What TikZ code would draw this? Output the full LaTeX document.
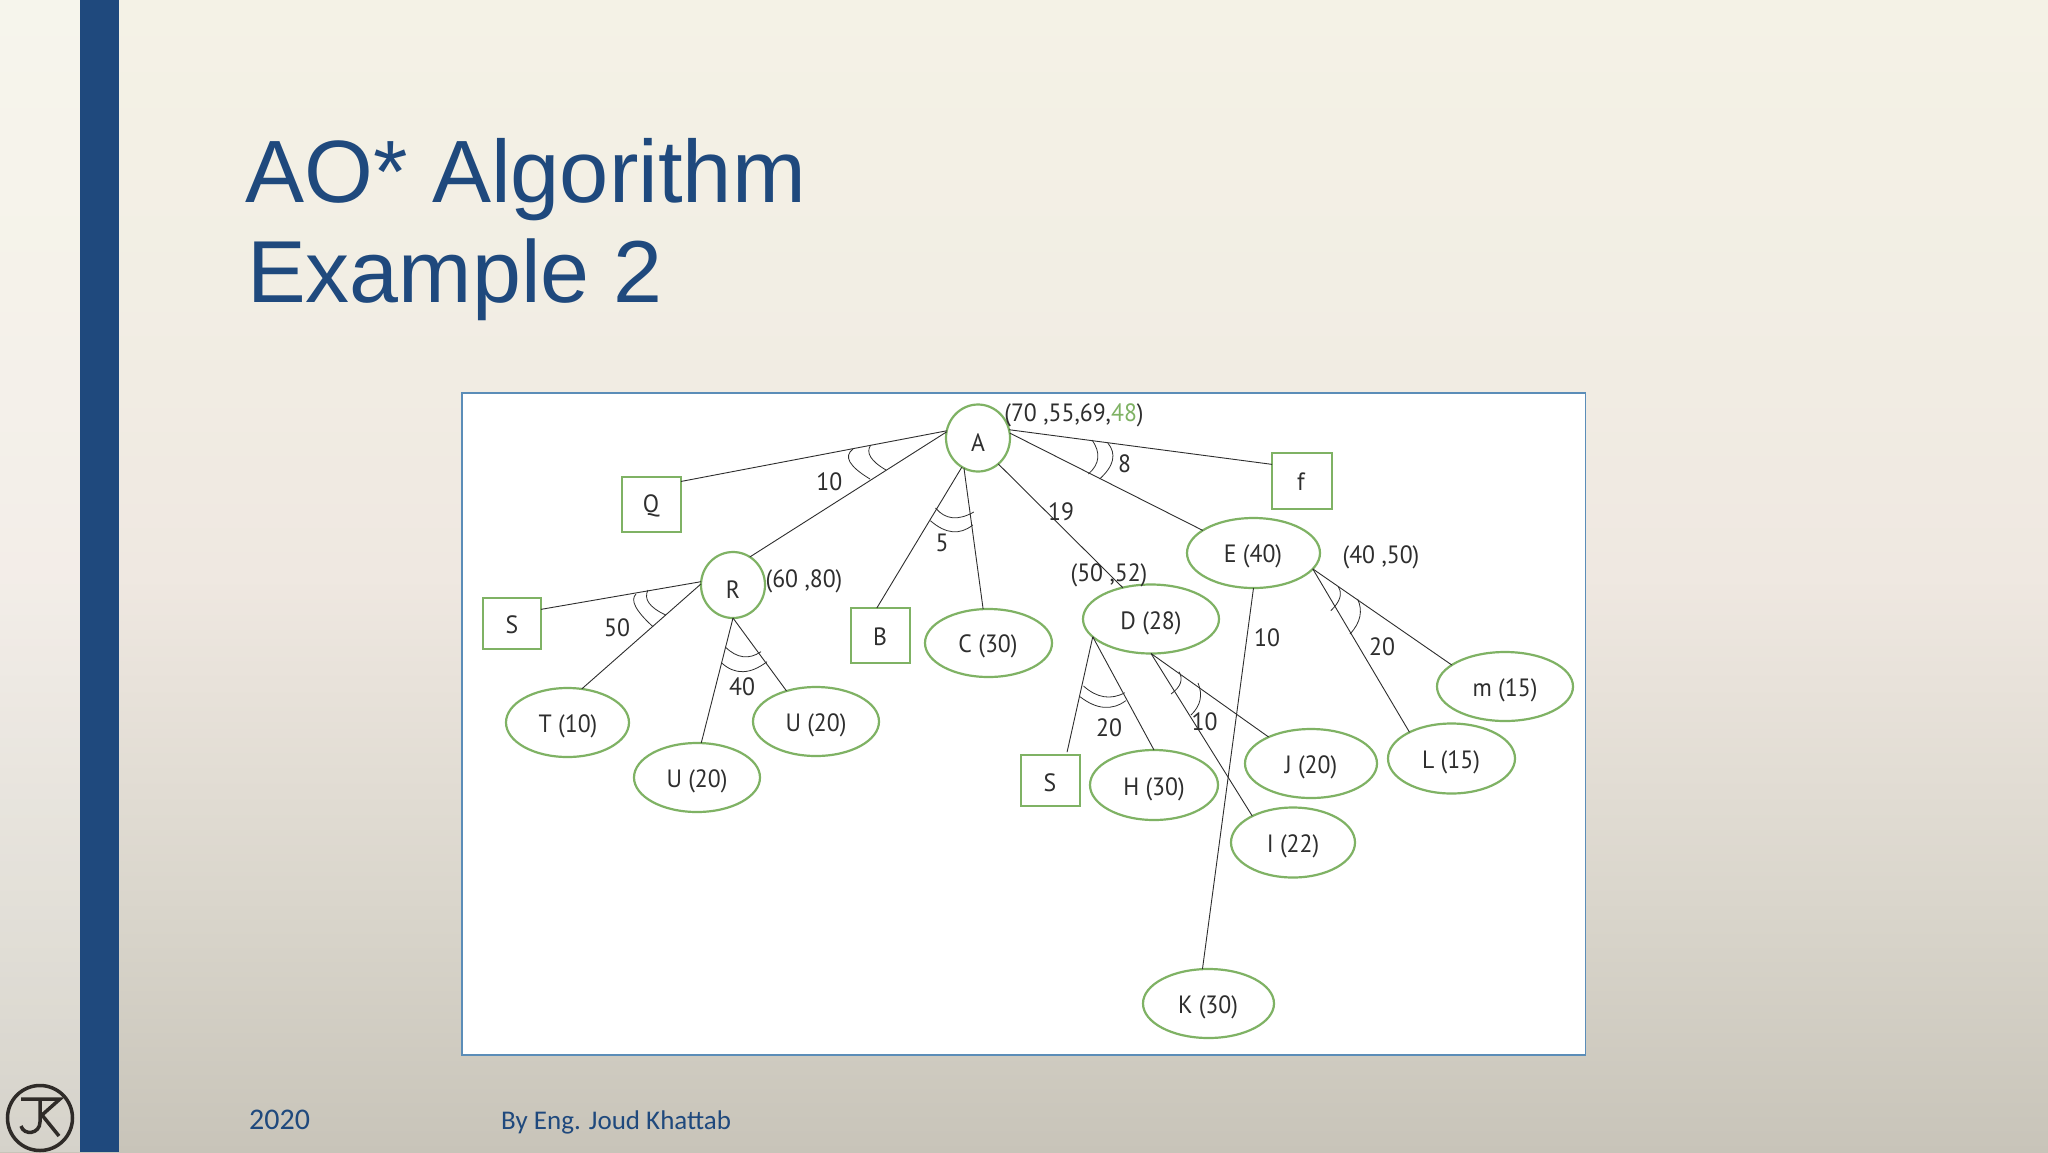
\documentclass[tikz,border=0pt]{standalone}
\usepackage{fontspec}
\usetikzlibrary{shapes.geometric,calc}
\setmainfont{Liberation Sans}
\newfontfamily\diagfont[FakeStretch=0.95]{PT Sans}
\newfontfamily\footfont{Carlito}
\definecolor{barblue}{HTML}{1F497D}
\definecolor{nodegreen}{HTML}{7FB264}
\definecolor{panelblue}{HTML}{5B8DB8}
\definecolor{inkdark}{HTML}{2E2E2E}
\definecolor{logoink}{HTML}{2F2B28}
\definecolor{bgA}{HTML}{F4F2E6}
\definecolor{bgB}{HTML}{F2EEE4}
\definecolor{bgC}{HTML}{EFE8E1}
\definecolor{bgD}{HTML}{DAD6CC}
\definecolor{bgE}{HTML}{C8C4B9}
\pgfdeclareverticalshading{slidebg}{100bp}{
 color(0bp)=(bgE);
 color(25bp)=(bgE);
 color(36bp)=(bgD);
 color(50bp)=(bgC);
 color(62.5bp)=(bgB);
 color(75bp)=(bgA);
 color(100bp)=(bgA)}
\tikzset{
 x=1pt,y=-1pt,
 oval/.style={ellipse,draw=nodegreen,line width=2.2pt,fill=white,inner sep=0pt,outer sep=0pt},
 sq/.style={rectangle,draw=nodegreen,line width=1.5pt,fill=white,inner sep=0pt,outer sep=0pt},
 link/.style={draw=inkdark,line width=0.9pt},
 ark/.style={draw=inkdark,line width=0.8pt},
 lbl/.style={inner sep=0pt,font=\diagfont\fontsize{25}{27}\selectfont,text=inkdark},
}
\newcommand{\qarc}[3]{\draw[ark] (#1) .. controls ($(#1)!.667!(#2)$) and ($(#3)!.667!(#2)$) .. (#3);}
\begin{document}
\begin{tikzpicture}
\useasboundingbox (0,0) rectangle (2048,1152);
\shade[shading=slidebg] (0,0) rectangle (2048,1152);
\fill[white,opacity=0.25] (0,0) rectangle (80,1152);
\fill[barblue] (80,0) rectangle (119,1152);
% title and footer
\node[anchor=base west,inner sep=0pt,text=barblue,font=\fontsize{88.5}{90}\selectfont] (t1) at (245,202) {AO* Algorithm};
\node[anchor=base west,inner sep=0pt,text=barblue,font=\fontsize{88}{90}\selectfont] (t2) at (247,302) {Example 2};
\node[anchor=base west,inner sep=0pt,text=barblue,font=\footfont\fontsize{30}{32}\selectfont] (f1) at (249,1129) {2020};
\node[anchor=base west,inner sep=0pt,text=barblue,font=\footfont\fontsize{27}{30}\selectfont] (f2) at (501,1129) {By Eng. Joud Khattab};
% logo
\draw[logoink,line width=3.5pt] (40,1118) circle (32.5);
\draw[logoink,line width=3.5pt] (21,1099) -- (60,1099) -- (42,1115) -- (59,1136);
\draw[logoink,line width=3.5pt] (40,1099) -- (40,1122) .. controls (40,1134) and (24,1136) .. (21,1126);
% panel
\draw[panelblue,line width=1.5pt,fill=white] (462,393) rectangle (1585.5,1055);
\path
 (978,438) node[oval,minimum width=64,minimum height=67] (A) {}
 (651.5,504.5) node[sq,minimum width=59,minimum height=55] (Q) {}
 (733,585) node[oval,minimum width=64,minimum height=66] (R) {}
 (512,623.5) node[sq,minimum width=58,minimum height=51] (S1) {}
 (880.7,635.5) node[sq,minimum width=59,minimum height=55] (B) {}
 (988.5,643) node[oval,minimum width=127,minimum height=68] (C) {}
 (1151,619) node[oval,minimum width=136,minimum height=69] (D) {}
 (1253.5,553) node[oval,minimum width=133,minimum height=70] (E) {}
 (1302,481) node[sq,minimum width=60,minimum height=56] (F) {}
 (567.5,722.5) node[oval,minimum width=123,minimum height=69] (T) {}
 (697,777.5) node[oval,minimum width=126,minimum height=69] (U1) {}
 (816,721.5) node[oval,minimum width=126,minimum height=69] (U2) {}
 (1050.5,780.5) node[sq,minimum width=59,minimum height=51] (S2) {}
 (1154,785) node[oval,minimum width=128,minimum height=70] (H) {}
 (1311,763.5) node[oval,minimum width=132,minimum height=69] (J) {}
 (1293,842.5) node[oval,minimum width=124,minimum height=70] (I) {}
 (1208.5,1003.5) node[oval,minimum width=131,minimum height=69] (K) {}
 (1451.5,758.5) node[oval,minimum width=127,minimum height=70] (L) {}
 (1505,686.5) node[oval,minimum width=136,minimum height=69] (M) {};
% node texts
\node[lbl] (tA) at (978,443) {A};
\node[lbl] (tQ) at (651,506) {Q};
\node[lbl] (tR) at (733,590) {R};
\node[lbl] (tS1) at (512,625) {S};
\node[lbl] (tB) at (880,637) {B};
\node[lbl] (tC) at (988,646) {C (30)};
\node[lbl] (tD) at (1151,623) {D (28)};
\node[lbl] (tE) at (1253,556) {E (40)};
\node[lbl] (tF) at (1301,482) {f};
\node[lbl] (tT) at (568,726) {T (10)};
\node[lbl] (tU1) at (697,781) {U (20)};
\node[lbl] (tU2) at (816,725) {U (20)};
\node[lbl] (tS2) at (1050,783) {S};
\node[lbl] (tH) at (1154,789) {H (30)};
\node[lbl] (tJ) at (1311,767) {J (20)};
\node[lbl] (tI) at (1293,846) {I (22)};
\node[lbl] (tK) at (1208,1007) {K (30)};
\node[lbl] (tL) at (1451,762) {L (15)};
\node[lbl] (tM) at (1505,690) {m (15)};
% connectors
\draw[link] (A.167) -- (Q.38.5);
\draw[link] (A.169) -- (R.59);
\draw[link] (A.241) -- (B.98);
\draw[link] (A.245) -- (C.99);
\draw[link] (A.308) -- (D.132);
\draw[link] (A.9) -- (E.156.6);
\draw[link] (A.15.7) -- (F.151);
\draw[link] (R.174) -- (S1.26.6);
\draw[link] (R.178) -- (T.67);
\draw[link] (R.south) -- (U1.83);
\draw[link] (R.south) -- (U2.134);
\draw[link,shorten >=3pt] (D.197) -- (S2.58);
\draw[link] (D.197) -- (H.north);
\draw[link] (D.south) -- (J.148.7);
\draw[link] (D.south) -- (I.147.7);
\draw[link] (E.south) -- (K.100.5);
\draw[link] (E.-15.7) -- (L.148.6);
\draw[link] (E.-15.7) -- (M.158);
% and-arcs
\qarc{853,449}{838.5,460}{870,479}
\qarc{870.7,445}{863,456.5}{886,470}
\qarc{1092,440}{1105.4,459}{1088.4,474}
\qarc{1107.6,442.7}{1121.4,459.15}{1099.6,479}
\qarc{935.5,508}{950.15,525.4}{973.8,512}
\qarc{930.4,520.7}{953.2,540.55}{972.8,525}
\qarc{636,594}{626.9,603}{653,626.7}
\qarc{648,590}{641.15,603.5}{665.7,615}
\qarc{725.3,647}{742.85,664}{761,651.7}
\qarc{721.7,663}{741.65,681}{767,661.7}
\qarc{1083.5,686}{1103.65,704}{1124.8,692.7}
\qarc{1080,696.7}{1104.9,715.9}{1125.8,700.7}
\qarc{1179,671.7}{1185.8,683.15}{1171,694}
\qarc{1198,683}{1205.5,701}{1191,715}
\qarc{1338.4,587}{1344.8,597.15}{1330.8,610.7}
\qarc{1357.6,599}{1365.8,616.9}{1350,634}
% labels
\node[lbl] (lA) at (1074,415) {(70 ,55,69,\textcolor{nodegreen}{48})};
\node[lbl] (lR) at (804,581) {(60 ,80)};
\node[lbl] (lD) at (1109,575) {(50 ,52)};
\node[lbl] (lE) at (1381,557) {(40 ,50)};
\node[lbl] (n10a) at (829.4,482) {10};
\node[lbl] (n8) at (1124.5,464) {8};
\node[lbl] (n5) at (942,543) {5};
\node[lbl] (n19) at (1061,512) {19};
\node[lbl] (n50) at (617,628) {50};
\node[lbl] (n40) at (742,687) {40};
\node[lbl] (n20a) at (1109,728) {20};
\node[lbl] (n10b) at (1204.5,722) {10};
\node[lbl] (n10c) at (1267,638) {10};
\node[lbl] (n20b) at (1382,647) {20};
\end{tikzpicture}
\end{document}
